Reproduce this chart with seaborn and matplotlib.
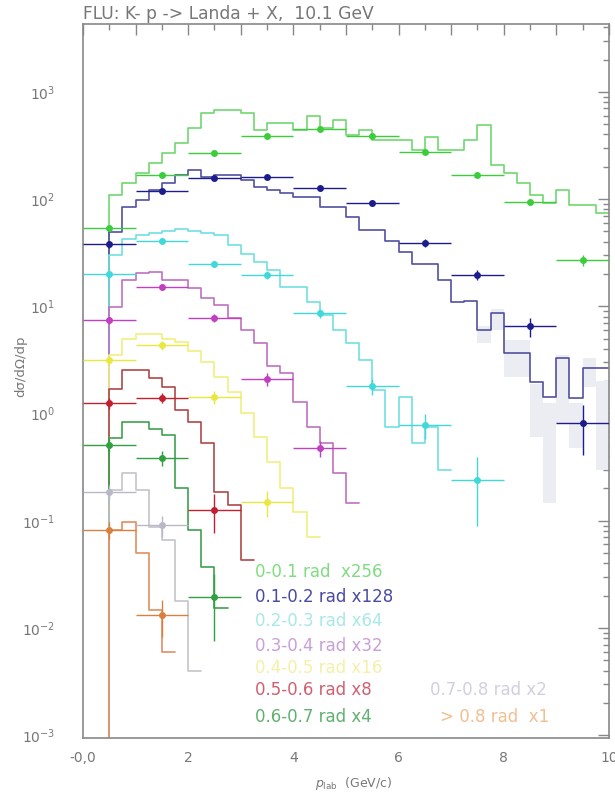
import numpy as np
import pandas as pd
import matplotlib
matplotlib.use("Agg")
import matplotlib.pyplot as plt
from matplotlib.ticker import MultipleLocator, LogLocator, FuncFormatter, NullFormatter
import seaborn as sns

# --- Data ---
BIN_START = 0.5
BIN_WIDTH = 0.25
POINT_X = [0.5, 1.5, 2.5, 3.5, 4.5, 5.5, 6.5, 7.5, 8.5, 9.5]

labels = ["0-0.1 rad  x256", "0.1-0.2 rad x128", "0.2-0.3 rad x64", "0.3-0.4 rad x32",
          "0.4-0.5 rad x16", "0.5-0.6 rad x8", "0.6-0.7 rad x4", "0.7-0.8 rad x2",
          "> 0.8 rad  x1"]

# histogram contents (bins of 0.25 starting at 0.5)
hist_a0 = [110, 141, 174, 217, 269, 333, 458, 630, 676, 676, 630, 436, 513, 513, 436, 600,
           458, 550, 395, 436, 355, 355, 355, 286, 380, 286, 286, 355, 490, 207, 174, 141,
           110, 91, 121, 88, 88, 74]
hist_a1 = [49, 84, 98, 121, 141, 167, 186, 160, 167, 167, 150, 129, 121, 114, 105, 105,
           84, 84, 68, 51, 51, 41, 32, 25, 25, 17.5, 11, 11.3, 6.0, 8.6, 3.66, 3.66,
           1.96, 1.42, 3.3, 1.39, 2.65, 2.65]
hist_a2 = [30, 42, 46, 48, 50, 52, 50, 48, 46, 37, 31, 26, 22, 15, 15, 11, 8.3, 6.0,
           4.5, 3.15, 1.65, 0.75, 1.42, 0.53, 0.75, 0.30]
hist_a3 = [9.8, 17.5, 20.5, 21, 17.5, 17.5, 14.8, 11.9, 10.2, 7.8, 6.0, 4.5, 2.8, 2.4,
           1.28, 0.75, 0.53, 0.28, 0.146]
hist_a4 = [3.5, 5.0, 5.5, 5.5, 5.0, 4.6, 3.8, 3.0, 2.2, 1.6, 1.0, 0.6, 0.35, 0.2, 0.12, 0.07]
hist_a5 = [1.7, 2.54, 2.54, 2.15, 1.76, 1.08, 0.83, 0.53, 0.185, 0.14, 0.043]
hist_a6 = [0.59, 0.83, 0.83, 0.72, 0.63, 0.20, 0.082, 0.037, 0.0155]
hist_a7 = [0.195, 0.28, 0.195, 0.087, 0.066, 0.018, 0.004]
hist_a8 = [0.082, 0.098, 0.050, 0.0147, 0.006]

# light grey error boxes of the second calculation (tail of the 0.1-0.2 rad set)
band_start = 7.5
band_lo = [4.5, 6.0, 2.2, 2.2, 0.6, 0.145, 0.8, 0.48, 1.75, 0.3]
band_hi = [6.5, 9.5, 4.8, 4.8, 1.9, 1.25, 3.5, 1.25, 3.3, 2.0]

# measured points (at p = 0.5, 1.5, ...)
pts_a0 = [54, 167, 268, 387, 450, 387, 274, 167, 94, 27]
pts_a1 = [38, 119, 157, 160, 127, 92, 39, 19.6, 6.5, 0.81]
pts_a2 = [20, 41, 24.8, 19.6, 8.6, 1.8, 0.78, 0.24]
pts_a3 = [7.4, 15.1, 7.8, 2.1, 0.475]
pts_a4 = [3.15, 4.35, 1.42, 0.149]
pts_a5 = [1.25, 1.39, 0.126]
pts_a6 = [0.51, 0.384, 0.0195]
pts_a7 = [0.185, 0.091]
pts_a8 = [0.082, 0.0132]

err_a0 = [3, 6, 8, 10, 12, 12, 10, 8, 6, 3]
err_a1 = [3, 5, 6, 6, 5, 5, 3, 2, 1.3, 0.4]
err_a2 = [1.5, 2, 1.5, 1.5, 0.8, 0.3, 0.2, 0.15]
err_a3 = [0.6, 1.0, 0.6, 0.3, 0.08]
err_a4 = [0.3, 0.4, 0.2, 0.04]
err_a5 = [0.15, 0.15, 0.05]
err_a6 = [0.07, 0.06, 0.012]
err_a7 = [0.03, 0.02]
err_a8 = [0.015, 0.005]

point_colors = ["#3ccc3c", "#1c1c8c", "#40d8d8", "#c040c0", "#e8e840",
                "#c02030", "#30a040", "#b8b8c8", "#d88040"]
hist_colors = ["#70d870", "#5050a0", "#70e0e0", "#c070c0", "#f0f080",
               "#b04848", "#40a050", "#c4c4cc", "#e09060"]
text_colors = ["#80dc80", "#4a4aa0", "#a8e8e8", "#c8a0d8", "#f4f0a8",
               "#d06070", "#60b070", "#d0d0e0", "#f0c090"]

hists = [hist_a0, hist_a1, hist_a2, hist_a3, hist_a4, hist_a5, hist_a6, hist_a7, hist_a8]
points = [pts_a0, pts_a1, pts_a2, pts_a3, pts_a4, pts_a5, pts_a6, pts_a7, pts_a8]
errors = [err_a0, err_a1, err_a2, err_a3, err_a4, err_a5, err_a6, err_a7, err_a8]

Y_MIN, Y_MAX = 9.4e-4, 4300
X_MIN, X_MAX = 0, 10

# --- Plot ---
sns.set_style("white")
plt.rcParams["font.family"] = ["DejaVu Sans"]

fig = plt.figure(figsize=(6.15, 7.97), dpi=100)
ax = fig.add_axes([0.135, 0.074, 0.855, 0.896])
ax.set_yscale("log")

# grey error boxes first so the coloured lines sit on top
band_edges = [band_start + BIN_WIDTH * i for i in range(len(band_lo) + 1)]
ax.fill_between(band_edges, band_lo + [band_lo[-1]], band_hi + [band_hi[-1]],
                step="post", color="#ececf3", linewidth=0, zorder=1)

for vals, pts, errs, hc, pc in zip(hists, points, errors, hist_colors, point_colors):
    edges = [BIN_START + BIN_WIDTH * i for i in range(len(vals) + 1)]
    hist_df = pd.DataFrame({
        "p": [(edges[i] + edges[i + 1]) / 2 for i in range(len(vals))],
        "w": vals,
    })
    sns.histplot(data=hist_df, x="p", weights="w", bins=edges, element="step",
                 fill=False, color=hc, linewidth=1.2, ax=ax, zorder=2)
    # first bin edge drops down to the axis, as in the original
    ax.vlines(edges[0], Y_MIN, vals[0], color=hc, linewidth=1.2, zorder=2)
    ax.errorbar(POINT_X[:len(pts)], pts, xerr=0.5, yerr=errs, fmt="o", ms=5, mew=0,
                color=pc, ecolor=pc, elinewidth=1.0, capsize=0, zorder=4)

ax.set_xlim(X_MIN, X_MAX)
ax.set_ylim(Y_MIN, Y_MAX)
ax.xaxis.label.set_visible(False)
ax.yaxis.label.set_visible(False)

# PAW-like axes: inward ticks on all sides, grey frame
for sp in ax.spines.values():
    sp.set_color("#888888")
    sp.set_linewidth(1.2)
ax.xaxis.set_major_locator(MultipleLocator(1))
ax.xaxis.set_minor_locator(MultipleLocator(0.5))
ax.xaxis.set_major_formatter(FuncFormatter(
    lambda v, p: "-0,0" if abs(v) < 1e-9 else (f"{int(round(v))}" if int(round(v)) % 2 == 0 else "")))
ax.yaxis.set_major_locator(LogLocator(base=10, numticks=20))
ax.yaxis.set_minor_locator(LogLocator(base=10, subs=np.arange(2, 10), numticks=20))
ax.yaxis.set_minor_formatter(NullFormatter())
ax.tick_params(which="major", direction="in", length=8, width=1, color="#888888",
               top=True, right=True, labelsize=10, labelcolor="#777777")
ax.tick_params(which="minor", direction="in", length=4, width=1, color="#888888",
               top=True, right=True)
ax.tick_params(axis="y", which="major", pad=20)
ax.tick_params(axis="x", which="major", pad=9)

# title and axis labels
fig.text(0.135, 0.982, "FLU: K- p -> Landa + X,  10.1 GeV", fontsize=12.3,
         color="#777777", ha="left", va="center")
fig.text(0.033, 0.54, "dσ/dΩ/dp", rotation=90, fontsize=9.5, color="#777777",
         ha="center", va="center")
fig.text(0.575, 0.017, r"$p_{\mathrm{lab}}$  (GeV/c)", fontsize=9, color="#777777",
         ha="center", va="center")

# legend as coloured text, two columns
legend_pos = [(0.415, 0.282), (0.415, 0.251), (0.415, 0.221), (0.415, 0.190),
              (0.415, 0.162), (0.415, 0.134), (0.415, 0.101), (0.700, 0.134),
              (0.715, 0.101)]
for lab, tc, (tx, ty) in zip(labels, text_colors, legend_pos):
    fig.text(tx, ty, lab, fontsize=12, color=tc, ha="left", va="center")

fig.savefig("out.png", dpi=100)
